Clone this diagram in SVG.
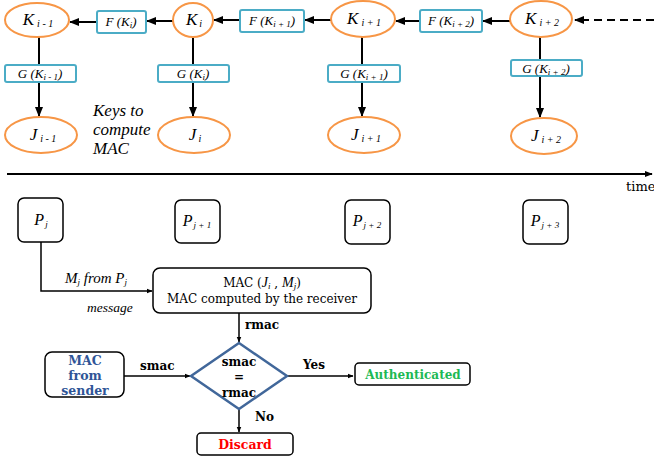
<svg xmlns="http://www.w3.org/2000/svg" width="654" height="462" viewBox="0 0 654 462">
<defs>
<style>
.k{fill:#fff;stroke:#F79646;stroke-width:2}
.f{fill:#fff;stroke:#4BACC6;stroke-width:2}
.b{fill:#fff;stroke:#000;stroke-width:1.5}
.ln{stroke:#000;stroke-width:1.5;fill:none}
.ln2{stroke:#000;stroke-width:2;fill:none}
.t{font-family:"DejaVu Serif","Liberation Serif",serif;fill:#000}
.bd{font-weight:bold}
</style>
<marker id="ah" viewBox="0 0 10 10" refX="9" refY="5" markerWidth="5" markerHeight="5" orient="auto"><path d="M0,1 L10,5 L0,9 z" fill="#000"/></marker>
<marker id="ah2" viewBox="0 0 10 10" refX="9" refY="5" markerWidth="4" markerHeight="4" orient="auto"><path d="M0,1 L10,5 L0,9 z" fill="#000"/></marker>
</defs>
<rect width="654" height="462" fill="#fff"/>

<g id="connectors">
<line class="ln2" x1="97" y1="22" x2="70" y2="22" marker-end="url(#ah)"/>
<line class="ln2" x1="173" y1="21" x2="147" y2="21" marker-end="url(#ah)"/>
<line class="ln2" x1="240" y1="20" x2="214" y2="20" marker-end="url(#ah)"/>
<line class="ln2" x1="332" y1="20" x2="305" y2="20" marker-end="url(#ah)"/>
<line class="ln2" x1="420" y1="21" x2="396" y2="21" marker-end="url(#ah)"/>
<line class="ln2" x1="510" y1="21" x2="483" y2="21" marker-end="url(#ah)"/>
<line class="ln2" x1="654" y1="20" x2="575" y2="20" stroke-dasharray="8,5" marker-end="url(#ah)"/>
<line class="ln2" x1="39" y1="37" x2="39" y2="65"/>
<line class="ln2" x1="39" y1="82" x2="39" y2="116" marker-end="url(#ah)"/>
<line class="ln2" x1="193" y1="37" x2="193" y2="65"/>
<line class="ln2" x1="193" y1="82" x2="193" y2="116" marker-end="url(#ah)"/>
<line class="ln2" x1="362" y1="37" x2="362" y2="65"/>
<line class="ln2" x1="362" y1="82" x2="362" y2="116" marker-end="url(#ah)"/>
<line class="ln2" x1="540" y1="37" x2="540" y2="60"/>
<line class="ln2" x1="540" y1="76" x2="540" y2="117" marker-end="url(#ah)"/>
<line class="ln2" x1="7" y1="174" x2="652" y2="174" marker-end="url(#ah2)"/>
<polyline class="ln" points="41,242 41,291 152,291" marker-end="url(#ah2)"/>
<line class="ln" x1="239" y1="313" x2="239" y2="342" marker-end="url(#ah2)"/>
<line class="ln" x1="124" y1="376" x2="190" y2="376" marker-end="url(#ah2)"/>
<line class="ln" x1="287" y1="376" x2="353" y2="376" marker-end="url(#ah2)"/>
<line class="ln" x1="239" y1="409" x2="239" y2="432" marker-end="url(#ah2)"/>
</g>

<g id="K_im1"><ellipse class="k" cx="37" cy="20" rx="32" ry="17"/><text font-family="Liberation Serif, serif" font-style="italic" x="38" y="25" font-size="17" text-anchor="middle">K<tspan font-size="10" dx="3" dy="2">i - 1</tspan></text></g>
<g id="K_i"><ellipse class="k" cx="193" cy="20" rx="20" ry="17"/><text font-family="Liberation Serif, serif" font-style="italic" x="194" y="25" font-size="17" text-anchor="middle">K<tspan font-size="10" dx="2" dy="2">i</tspan></text></g>
<g id="K_ip1"><ellipse class="k" cx="363" cy="19" rx="32" ry="18"/><text font-family="Liberation Serif, serif" font-style="italic" x="364" y="24" font-size="17" text-anchor="middle">K<tspan font-size="10" dx="3" dy="2">i + 1</tspan></text></g>
<g id="K_ip2"><ellipse class="k" cx="541" cy="19" rx="31" ry="18"/><text font-family="Liberation Serif, serif" font-style="italic" x="542" y="24" font-size="17" text-anchor="middle">K<tspan font-size="10" dx="3" dy="2">i + 2</tspan></text></g>

<g id="F_Ki"><rect class="f" x="97" y="11" width="49" height="22" rx="2"/><text font-family="Liberation Serif, serif" font-style="italic" x="121" y="26" font-size="13" text-anchor="middle">F (K<tspan font-size="9" dy="2">i</tspan><tspan dy="-2">)</tspan></text></g>
<g id="F_Kip1"><rect class="f" x="240" y="10" width="64" height="22" rx="2"/><text font-family="Liberation Serif, serif" font-style="italic" x="272" y="25" font-size="13" text-anchor="middle">F (K<tspan font-size="9" dy="2">i + 1</tspan><tspan dy="-2">)</tspan></text></g>
<g id="F_Kip2"><rect class="f" x="420" y="10" width="62" height="22" rx="2"/><text font-family="Liberation Serif, serif" font-style="italic" x="451" y="25" font-size="13" text-anchor="middle">F (K<tspan font-size="9" dy="2">i + 2</tspan><tspan dy="-2">)</tspan></text></g>

<g id="G_Kim1"><rect class="f" x="5" y="65" width="71" height="17" rx="2"/><text font-family="Liberation Serif, serif" font-style="italic" x="40" y="78" font-size="13" text-anchor="middle">G (K<tspan font-size="9" dy="2">i - 1</tspan><tspan dy="-2">)</tspan></text></g>
<g id="G_Ki"><rect class="f" x="158" y="65" width="71" height="17" rx="2"/><text font-family="Liberation Serif, serif" font-style="italic" x="193" y="78" font-size="13" text-anchor="middle">G (K<tspan font-size="9" dy="2">i</tspan><tspan dy="-2">)</tspan></text></g>
<g id="G_Kip1"><rect class="f" x="328" y="65" width="72" height="17" rx="2"/><text font-family="Liberation Serif, serif" font-style="italic" x="364" y="78" font-size="13" text-anchor="middle">G (K<tspan font-size="9" dy="2">i + 1</tspan><tspan dy="-2">)</tspan></text></g>
<g id="G_Kip2"><rect class="f" x="511" y="60" width="71" height="16" rx="2"/><text font-family="Liberation Serif, serif" font-style="italic" x="546" y="73" font-size="13" text-anchor="middle">G (K<tspan font-size="9" dy="2">i + 2</tspan><tspan dy="-2">)</tspan></text></g>

<g id="J_im1"><ellipse class="k" cx="41" cy="135" rx="36" ry="18"/><text font-family="Liberation Serif, serif" font-style="italic" x="43" y="140" font-size="17" text-anchor="middle">J<tspan font-size="10" dx="3" dy="2">i - 1</tspan></text></g>
<g id="J_i"><ellipse class="k" cx="194" cy="135" rx="36" ry="18"/><text font-family="Liberation Serif, serif" font-style="italic" x="195" y="140" font-size="17" text-anchor="middle">J<tspan font-size="10" dx="2" dy="2">i</tspan></text></g>
<g id="J_ip1"><ellipse class="k" cx="364" cy="135" rx="36" ry="18"/><text font-family="Liberation Serif, serif" font-style="italic" x="366" y="140" font-size="17" text-anchor="middle">J<tspan font-size="10" dx="3" dy="2">i + 1</tspan></text></g>
<g id="J_ip2"><ellipse class="k" cx="544" cy="136" rx="33" ry="18"/><text font-family="Liberation Serif, serif" font-style="italic" x="546" y="141" font-size="17" text-anchor="middle">J<tspan font-size="10" dx="3" dy="2">i + 2</tspan></text></g>

<g id="keys_label"><text font-family="Liberation Serif, serif" font-style="italic" font-size="17"><tspan x="93" y="116">Keys to</tspan><tspan x="93" y="135">compute</tspan><tspan x="93" y="154">MAC</tspan></text></g>

<text class="t" x="626" y="191" font-size="13">time</text>

<g id="P_j"><rect class="b" x="18" y="198" width="45" height="44" rx="6"/><text font-family="Liberation Serif, serif" font-style="italic" x="41" y="225" font-size="16" text-anchor="middle">P<tspan font-size="9" dx="1" dy="2">j</tspan></text></g>
<g id="P_jp1"><rect class="b" x="175" y="200" width="45" height="43" rx="6"/><text font-family="Liberation Serif, serif" font-style="italic" x="197" y="226" font-size="16" text-anchor="middle">P<tspan font-size="9" dx="1" dy="2">j + 1</tspan></text></g>
<g id="P_jp2"><rect class="b" x="345" y="200" width="45" height="44" rx="6"/><text font-family="Liberation Serif, serif" font-style="italic" x="367" y="226" font-size="16" text-anchor="middle">P<tspan font-size="9" dx="1" dy="2">j + 2</tspan></text></g>
<g id="P_jp3"><rect class="b" x="523" y="200" width="45" height="44" rx="6"/><text font-family="Liberation Serif, serif" font-style="italic" x="545" y="226" font-size="16" text-anchor="middle">P<tspan font-size="9" dx="1" dy="2">j + 3</tspan></text></g>

<text font-family="Liberation Serif, serif" font-style="italic" x="65" y="283" font-size="15">M<tspan font-size="9" dy="2">j</tspan><tspan dy="-2"> from P</tspan><tspan font-size="9" dy="2">j</tspan></text>
<text font-family="Liberation Serif, serif" font-style="italic" x="87" y="312" font-size="13.5">message</text>

<g id="MAC_box"><rect class="b" x="153" y="268" width="218" height="45" rx="7"/>
<text class="t" x="262" y="287" font-size="12" text-anchor="middle">MAC (<tspan font-family="Liberation Serif, serif" font-style="italic" font-size="14">J</tspan><tspan font-family="Liberation Serif, serif" font-style="italic" font-size="9" dy="2">i</tspan><tspan dy="-2"> , </tspan><tspan font-family="Liberation Serif, serif" font-style="italic" font-size="14">M</tspan><tspan font-family="Liberation Serif, serif" font-style="italic" font-size="9" dy="2">j</tspan><tspan dy="-2">)</tspan></text>
<text class="t" x="262" y="303" font-size="12" text-anchor="middle">MAC computed by the receiver</text></g>

<text class="t bd" x="245" y="329" font-size="12">rmac</text>

<g id="MAC_sender"><rect class="b" x="45" y="352" width="79" height="45" rx="7"/>
<text class="t bd" font-size="12.5" text-anchor="middle" style="fill:#2F5597"><tspan x="85" y="365">MAC</tspan><tspan x="85" y="380">from</tspan><tspan x="85" y="395">sender</tspan></text></g>

<text class="t bd" x="140" y="370" font-size="12">smac</text>

<g id="decision"><polygon points="239,343 287,376 239,409 191,376" fill="#fff" stroke="#41679A" stroke-width="2.5"/>
<text class="t bd" font-size="12" text-anchor="middle"><tspan x="239" y="366">smac</tspan><tspan x="239" y="381">=</tspan><tspan x="239" y="397">rmac</tspan></text></g>

<text class="t bd" x="303" y="369" font-size="12">Yes</text>
<text class="t bd" x="255" y="421" font-size="12">No</text>

<g id="authenticated"><rect class="b" x="355" y="363" width="115" height="22" rx="4"/>
<text class="t bd" x="413" y="379" font-size="12" text-anchor="middle" style="fill:#1DB954">Authenticated</text></g>

<g id="discard"><rect class="b" x="197" y="433" width="96" height="22" rx="4"/>
<text class="t bd" x="245" y="449" font-size="12.5" text-anchor="middle" style="fill:#FF0000">Discard</text></g>
</svg>
